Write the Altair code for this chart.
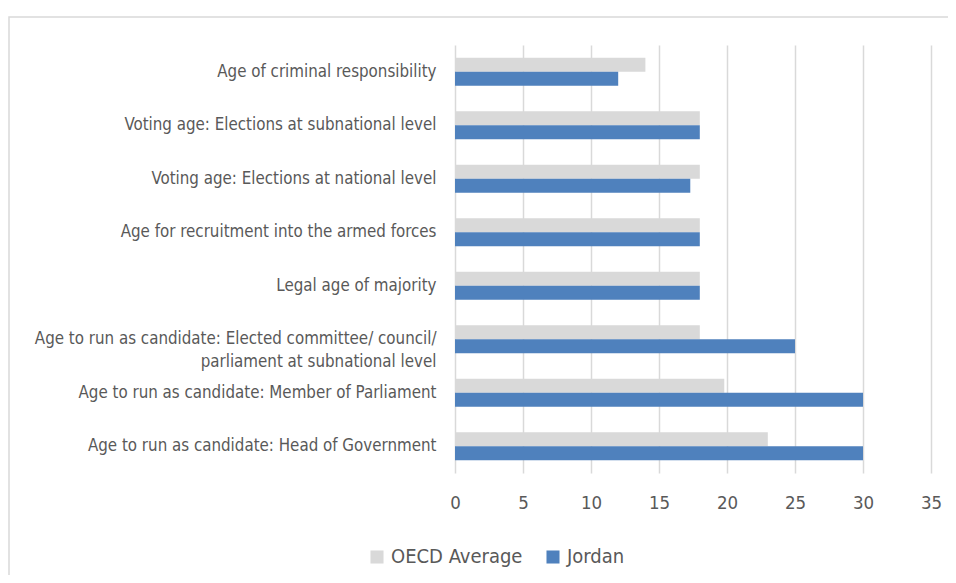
import altair as alt
import pandas as pd

categories = [
    "Age of criminal responsibility",
    "Voting age: Elections at subnational level",
    "Voting age: Elections at national level",
    "Age for recruitment into the armed forces\u00a0",
    "Legal age of majority\u00a0",
    "Age to run as candidate: Elected committee/ council/|parliament at subnational level",
    "Age to run as candidate: Member of Parliament",
    "Age to run as candidate: Head of Government",
]
oecd_average = [14, 18, 18, 18, 18, 18, 19.8, 23]
jordan = [12, 18, 17.3, 18, 18, 25, 30, 30]
series_names = ["OECD Average", "Jordan"]
series_colors = ["#d9d9d9", "#4f81bd"]
x_ticks = [0, 5, 10, 15, 20, 25, 30, 35]

rows = []
for c, o, j in zip(categories, oecd_average, jordan):
    rows.append({"category": c, "series": series_names[0], "value": o})
    rows.append({"category": c, "series": series_names[1], "value": j})
df = pd.DataFrame(rows)

FONT = "DejaVu Sans Condensed"
TXT = "#595959"

bars = alt.Chart(df).mark_bar(size=14).encode(
    x=alt.X("value:Q", scale=alt.Scale(domain=[0, 35], nice=False),
            axis=alt.Axis(values=x_ticks, title=None, domain=False, ticks=False,
                          grid=True, gridColor="#d9d9d9", gridWidth=1.5,
                          labelFontSize=18.5, labelColor=TXT, labelFont=FONT,
                          labelPadding=20, labelFlush=False)),
    y=alt.Y("category:N", sort=categories,
            scale=alt.Scale(paddingInner=0.48, paddingOuter=0.24),
            axis=alt.Axis(title=None, domain=False, ticks=False, labelFontSize=16.8,
                          labelColor=TXT, labelFont=FONT, labelPadding=19,
                          labelLimit=450, labelLineHeight=23,
                          labelExpr="split(datum.label, '|')")),
    yOffset=alt.YOffset("series:N", sort=series_names,
                        scale=alt.Scale(paddingInner=0, paddingOuter=0)),
    color=alt.Color("series:N", sort=series_names,
                    scale=alt.Scale(domain=series_names, range=series_colors),
                    legend=alt.Legend(title=None, orient="none", direction="horizontal",
                                      legendX=-88, legendY=502, symbolType="square",
                                      symbolSize=170, symbolStrokeWidth=0,
                                      labelFontSize=20, labelColor=TXT, labelFont=FONT,
                                      columnPadding=20, labelOffset=4)),
)

border = alt.Chart(pd.DataFrame({"a": [0]})).mark_rect(
    fill=None, stroke="#d9d9d9", strokeWidth=1.5, clip=False
).encode(
    x=alt.value(-446), x2=alt.value(530), y=alt.value(-28), y2=alt.value(560)
)

chart = alt.layer(border, bars).properties(
    width=476, height=428,
    background="white",
    autosize=alt.AutoSizeParams(type="none"),
    padding={"left": 447, "top": 37, "right": 17, "bottom": 102},
).configure_view(stroke=None)

chart.save("out.html", embed_options={"renderer": "svg", "actions": False})
